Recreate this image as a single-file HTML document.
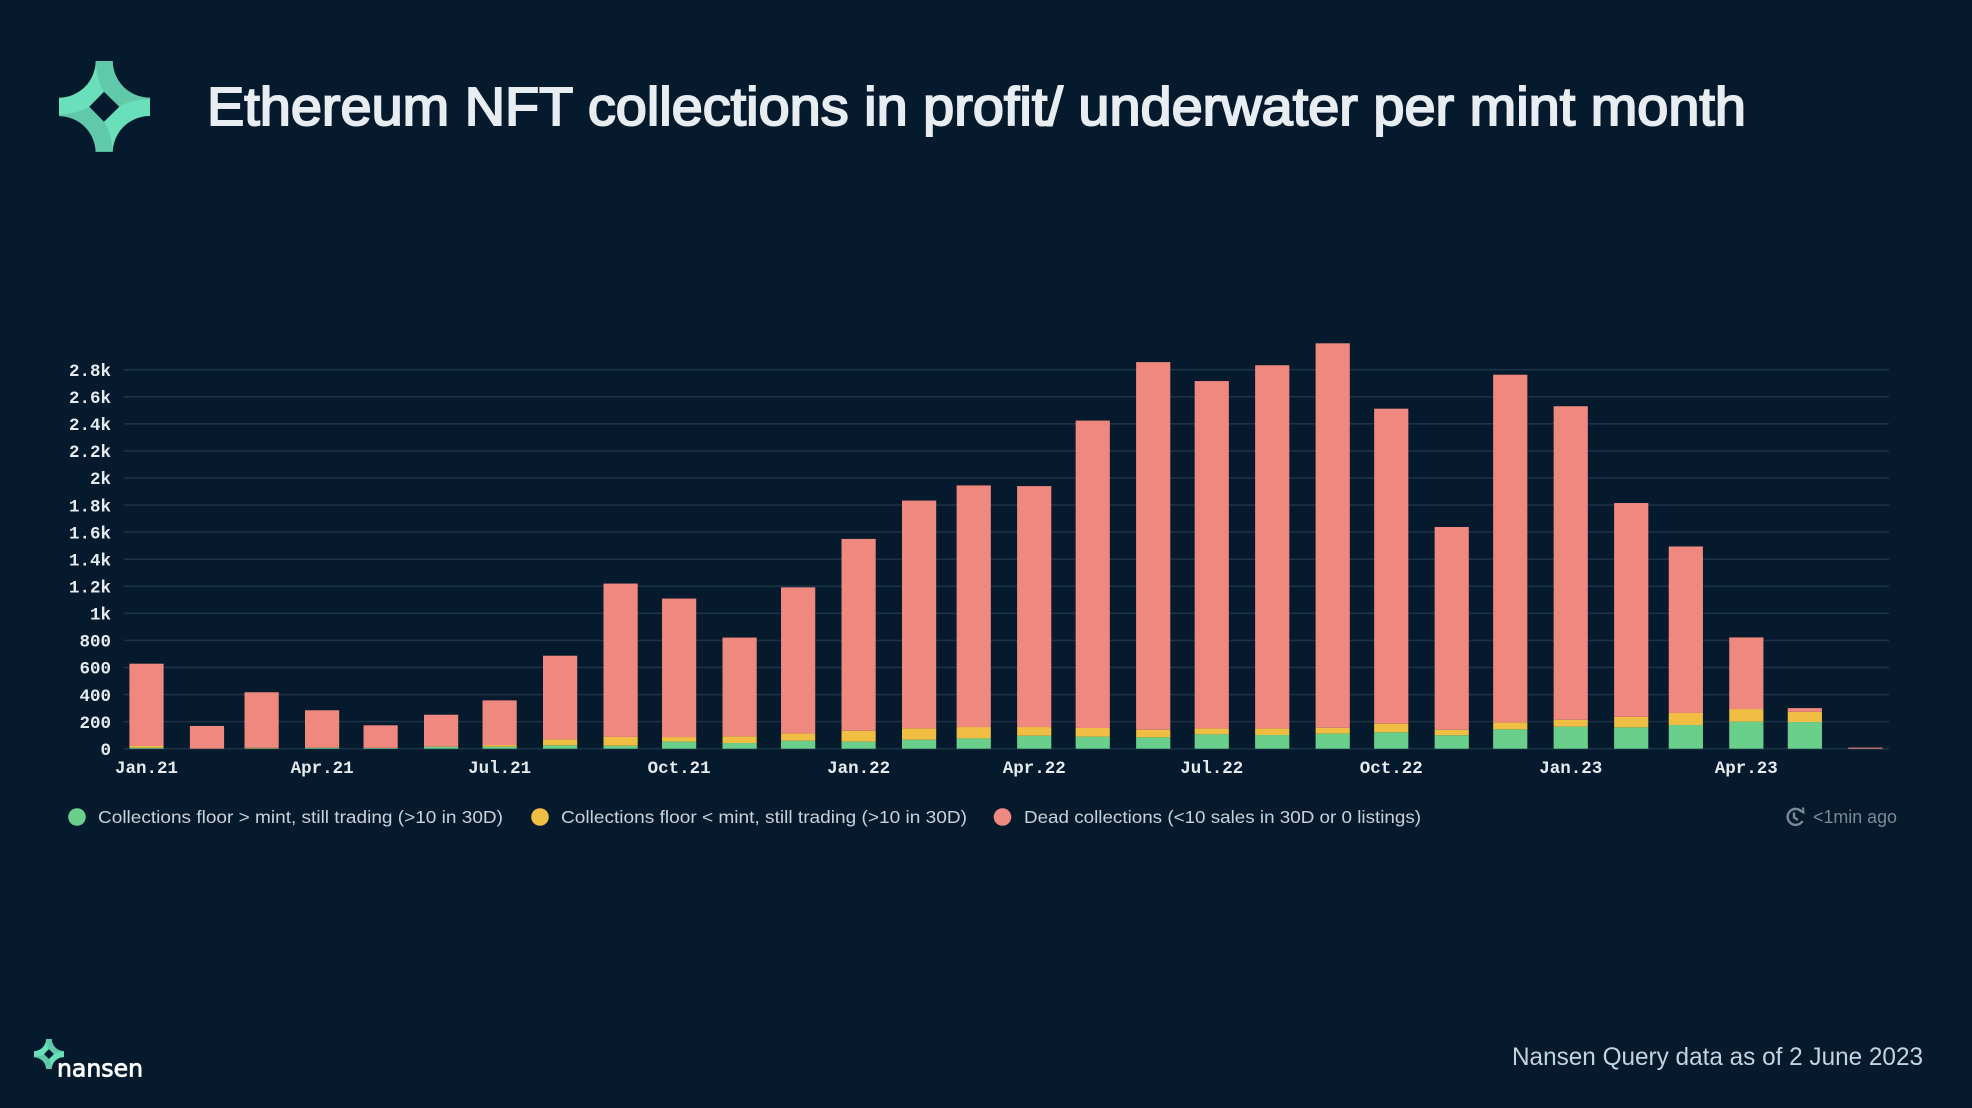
<!DOCTYPE html>
<html lang="en">
<head>
<meta charset="utf-8">
<title>Ethereum NFT collections in profit/ underwater per mint month</title>
<style>
html,body{margin:0;padding:0;background:#051a2c;}
body{width:1972px;height:1108px;overflow:hidden;}
svg{display:block;}
text{font-family:"Liberation Sans",sans-serif;}
.mono{font-family:"Liberation Mono",monospace;font-weight:700;font-size:17.5px;fill:#e6ebef;}
.legend-text{font-size:17.5px;fill:#c9d2da;}
</style>
</head>
<body>
<svg id="chart" xmlns="http://www.w3.org/2000/svg" width="1972" height="1108" viewBox="0 0 1972 1108">
  <rect width="1972" height="1108" fill="#051a2c"/>

  <g>
    <path fill="#69e0b9" d="M95.7 61H112.7A37 37 0 0 0 150 97.7V116A37 37 0 0 0 112.7 151.7H95.7A37 37 0 0 0 59 116V97.7A37 37 0 0 0 95.7 61Z"/>
    <path fill="#60c9a9" d="M95.7 61H112.7A37 37 0 0 0 150 97.7V99.3Q130 100 119.3 106.7L104 91.7Q97 82 95.7 61Z"/>
    <path fill="#60c9a9" d="M112.7 151.7H95.7A37 37 0 0 0 59 116V114.5Q79 113 89.3 106.7L104 121.7Q111 131 112.7 151.7Z"/>
    <path fill="#051a2c" d="M104 91.7L119.3 106.7L104 121.7L89.3 106.7Z"/>
  </g>
  <text x="207" y="125" font-size="54" font-weight="400" fill="#e8edf2" stroke="#e8edf2" stroke-width="1.9" textLength="1539" lengthAdjust="spacingAndGlyphs">Ethereum NFT collections in profit/ underwater per mint month</text>

  <g id="grid"></g>
  <g id="bars"></g>
  <g id="yaxis"></g>
  <g id="xaxis"></g>

  <g>
    <g>
      <circle cx="77" cy="817" r="8.8" fill="#69cf8b"/>
      <text class="legend-text" x="98" y="823" textLength="405" lengthAdjust="spacingAndGlyphs">Collections floor &gt; mint, still trading (&gt;10 in 30D)</text>
    </g>
    <g>
      <circle cx="540" cy="817" r="8.8" fill="#f0be42"/>
      <text class="legend-text" x="561" y="823" textLength="406" lengthAdjust="spacingAndGlyphs">Collections floor &lt; mint, still trading (&gt;10 in 30D)</text>
    </g>
    <g>
      <circle cx="1002.5" cy="817" r="8.8" fill="#ef887f"/>
      <text class="legend-text" x="1024" y="823" textLength="397" lengthAdjust="spacingAndGlyphs">Dead collections (&lt;10 sales in 30D or 0 listings)</text>
    </g>
  </g>

  <g>
    <g fill="none" stroke="#7b8a96" stroke-width="2.4">
      <path d="M1802 812A8 8 0 1 0 1802.5 821"/>
      <path d="M1794 812.5V817.5L1798 820"/>
      <path d="M1799 810L1803.5 812.5L1803 807.5" stroke-width="2"/>
    </g>
    <text x="1813" y="823" font-size="18" fill="#7b8a96" textLength="84" lengthAdjust="spacingAndGlyphs">&lt;1min ago</text>
  </g>

  <g>
    <g transform="translate(34 1039) scale(0.33)">
      <path fill="#69e0b9" d="M36.7 0H53.7A37 37 0 0 0 91 36.7V55A37 37 0 0 0 53.7 90.7H36.7A37 37 0 0 0 0 55V36.7A37 37 0 0 0 36.7 0Z"/>
      <path fill="#60c9a9" d="M36.7 0H53.7A37 37 0 0 0 91 36.7V38.3Q71 39 60.3 45.7L45 30.7Q38 21 36.7 0Z"/>
      <path fill="#60c9a9" d="M53.7 90.7H36.7A37 37 0 0 0 0 55V53.5Q20 52 30.3 45.7L45 60.7Q52 70 53.7 90.7Z"/>
      <path fill="#051a2c" d="M45 30.7L60.3 45.7L45 60.7L30.3 45.7Z"/>
    </g>
    <text x="57" y="1076.5" font-size="24" fill="#ffffff" stroke="#ffffff" stroke-width="0.8" textLength="86" lengthAdjust="spacingAndGlyphs" style="font-family:'DejaVu Sans',sans-serif">nansen</text>
  </g>
  <text x="1512" y="1065" font-size="25" fill="#c5d3df" textLength="411" lengthAdjust="spacingAndGlyphs">Nansen Query data as of 2 June 2023</text>
</svg>

<script>
const categories = ['2021-01-01','2021-02-01','2021-03-01','2021-04-01','2021-05-01','2021-06-01','2021-07-01','2021-08-01','2021-09-01','2021-10-01','2021-11-01','2021-12-01','2022-01-01','2022-02-01','2022-03-01','2022-04-01','2022-05-01','2022-06-01','2022-07-01','2022-08-01','2022-09-01','2022-10-01','2022-11-01','2022-12-01','2023-01-01','2023-02-01','2023-03-01','2023-04-01','2023-05-01','2023-06-01'];
const floorAboveMint = [7,0,3,7,5,15,15,25,22,52,42,59,52,66,76,96,89,84,106,101,111,121,99,143,163,158,175,200,197,0];
const floorBelowMint = [13,1,4,1,1,1,12,44,65,34,49,54,81,84,84,64,64,56,44,49,44,64,41,52,51,78,89,93,76,0];
const deadCollections = [608,167,410,276,167,235,330,618,1133,1023,730,1079,1417,1683,1785,1780,2271,2716,2566,2683,2840,2327,1498,2568,2316,1579,1230,529,27,8];
const yTickValues = [0,200,400,600,800,1000,1200,1400,1600,1800,2000,2200,2400,2600,2800];
const yTickLabels = ['0','200','400','600','800','1k','1.2k','1.4k','1.6k','1.8k','2k','2.2k','2.4k','2.6k','2.8k'];
const xTickDates = ['2021-01-01','2021-04-01','2021-07-01','2021-10-01','2022-01-01','2022-04-01','2022-07-01','2022-10-01','2023-01-01','2023-04-01'];
const xTickLabels = ['Jan.21','Apr.21','Jul.21','Oct.21','Jan.22','Apr.22','Jul.22','Oct.22','Jan.23','Apr.23'];

const SVG_NS = 'http://www.w3.org/2000/svg';
const plot = {x0: 146.5, pxPerDay: 1.951, y0: 748.7, pxPerUnit: 0.13536, barWidth: 34.2, left: 124, right: 1889};
const seriesColors = {green: '#69cf8b', yellow: '#f0be42', red: '#ef887f'};
const origin = Date.parse(categories[0]);

function xScale(dateStr) {
  return plot.x0 + (Date.parse(dateStr) - origin) / 86400000 * plot.pxPerDay;
}
function yScale(value) {
  return plot.y0 - value * plot.pxPerUnit;
}
function make(tag, attrs) {
  const el = document.createElementNS(SVG_NS, tag);
  for (const k in attrs) el.setAttribute(k, attrs[k]);
  return el;
}

const gridGroup = document.getElementById('grid');
const yGroup = document.getElementById('yaxis');
yTickValues.forEach((v, i) => {
  const y = yScale(v);
  const line = make('line', {x1: plot.left, x2: plot.right, y1: y, y2: y, stroke: '#1c3246', 'stroke-width': 1.6});
  
  
  gridGroup.appendChild(line);
  const label = make('text', {x: 111, y: y + 6.2, 'text-anchor': 'end', class: 'mono'});
  
  
  label.textContent = yTickLabels[i];
  yGroup.appendChild(label);
});

const xGroup = document.getElementById('xaxis');
xTickDates.forEach((d, i) => {
  const label = make('text', {x: xScale(d), y: 773, 'text-anchor': 'middle', class: 'mono'});
  
  
  label.textContent = xTickLabels[i];
  xGroup.appendChild(label);
});

const barGroup = document.getElementById('bars');
categories.forEach((d, i) => {
  const left = xScale(d) - plot.barWidth / 2;
  const a = floorAboveMint[i];
  const b = floorBelowMint[i];
  const c = deadCollections[i];
  const segments = [[0, a, seriesColors.green, 'bar-floor-above-mint'], [a, a + b, seriesColors.yellow, 'bar-floor-below-mint'], [a + b, a + b + c, seriesColors.red, 'bar-dead-collections']];
  segments.forEach(seg => {
    if (seg[1] <= seg[0]) return;
    const rect = make('rect', {x: left, y: yScale(seg[1]), width: plot.barWidth, height: yScale(seg[0]) - yScale(seg[1]), fill: seg[2]});
    
    
    barGroup.appendChild(rect);
  });
});
</script>
</body>
</html>
